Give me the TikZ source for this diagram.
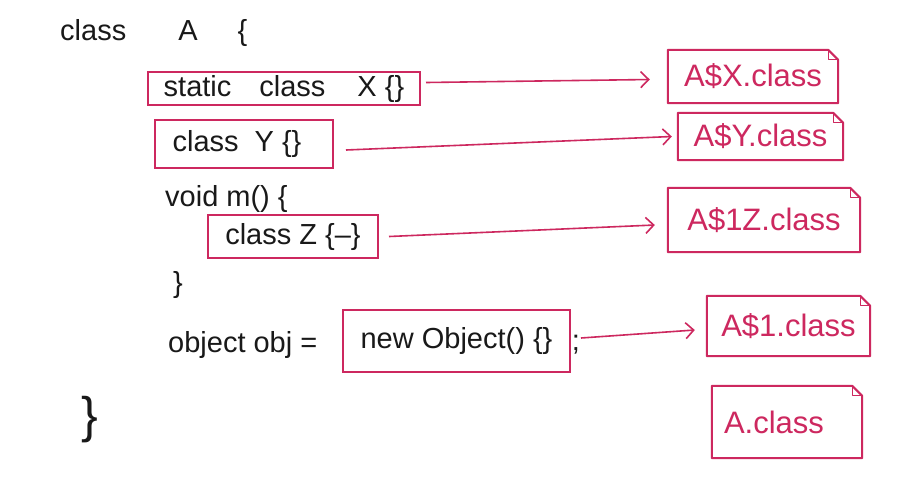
\documentclass[tikz,border=0pt]{standalone}
\usepackage{fontspec}
\setmainfont{Liberation Sans}
\usetikzlibrary{arrows.meta}
\definecolor{pinkred}{RGB}{205,40,95}
\definecolor{ink}{RGB}{25,25,25}
\newcommand\docshape[1]{%
  \draw[docline] (#1.north west) -- ([xshift=-10pt]#1.north east) -- ([yshift=-10pt]#1.north east) -- (#1.south east) -- (#1.south west) -- cycle;
  \draw[docline, line width=1.3pt] ([xshift=-10pt]#1.north east) -- ([xshift=-10pt,yshift=-10pt]#1.north east) -- ([yshift=-10pt]#1.north east);}
\begin{document}
\begin{tikzpicture}[x=1pt,y=-1pt,
  codetext/.style={text=ink, font=\fontsize{29}{33}\selectfont, inner sep=0pt},
  codebox/.style={draw=pinkred, line width=2pt, text=ink, font=\fontsize{29}{33}\selectfont, inner sep=0pt},
  filebox/.style={draw=none, text=pinkred, font=\fontsize{31}{35}\selectfont, inner sep=0pt},
  docline/.style={draw=pinkred, line width=2pt, line join=round},
  link/.style={draw=pinkred, line width=1.6pt, -{Straight Barb[length=8pt,width=16pt,line width=1.6pt]}}]
\useasboundingbox[fill=white] (0,0) rectangle (899,499);

% code text
\node[codetext, anchor=base west] (hdr) at (60,40) {class\hspace{52pt}A\hspace{40pt}\{};
\node[codebox, minimum width=272pt, minimum height=33pt] (bx) at (284,88.5) {static\hspace{28pt}class\hspace{32pt}X \{\}};
\node[codebox, minimum width=178pt, minimum height=48pt] (by) at (244,144) {class\hspace{16pt}Y \{\}\kern14pt};
\node[codetext, anchor=west] (vm) at (165,199) {void m() \{};
\node[codebox, minimum width=170pt, minimum height=43pt] (bz) at (293,236.5) {class Z \{--\}};
\node[codetext] (cm) at (178,285) {\}};
\node[codetext, anchor=west] (obj) at (168,345) {object obj =};
\node[codebox, minimum width=227pt, minimum height=62pt] (bo) at (456.5,341) {new Object() \{\}};
\node[codetext] (semi) at (576,345) {;};
\node[codetext, font=\fontsize{50}{54}\selectfont] (ca) at (90,420) {\}};

% class files
\node[filebox, minimum width=170pt, minimum height=53pt] (fx) at (753,76.5) {A\$X.class};
\node[filebox, minimum width=165pt, minimum height=47pt] (fy) at (760.5,136.5) {A\$Y.class};
\node[filebox, minimum width=192pt, minimum height=64pt] (fz) at (764,220) {A\$1Z.class};
\node[filebox, minimum width=163pt, minimum height=60pt] (f1) at (788.5,326) {A\$1.class};
\node[filebox, minimum width=150pt, minimum height=72pt] (fa) at (787,422) {A.class\kern26pt};
\docshape{fx}
\docshape{fy}
\docshape{fz}
\docshape{f1}
\docshape{fa}

% arrows
\draw[link] ([xshift=5pt,yshift=6pt]bx.east) -- ([xshift=-18pt,yshift=-3pt]fx.west);
\draw[link] ([xshift=12pt,yshift=-6pt]by.east) -- ([xshift=-6pt]fy.west);
\draw[link] ([xshift=10pt]bz.east) -- ([xshift=-13pt,yshift=-5pt]fz.west);
\draw[link] ([xshift=10pt,yshift=3pt]bo.east) -- ([xshift=-12pt,yshift=-4pt]f1.west);
\end{tikzpicture}
\end{document}
